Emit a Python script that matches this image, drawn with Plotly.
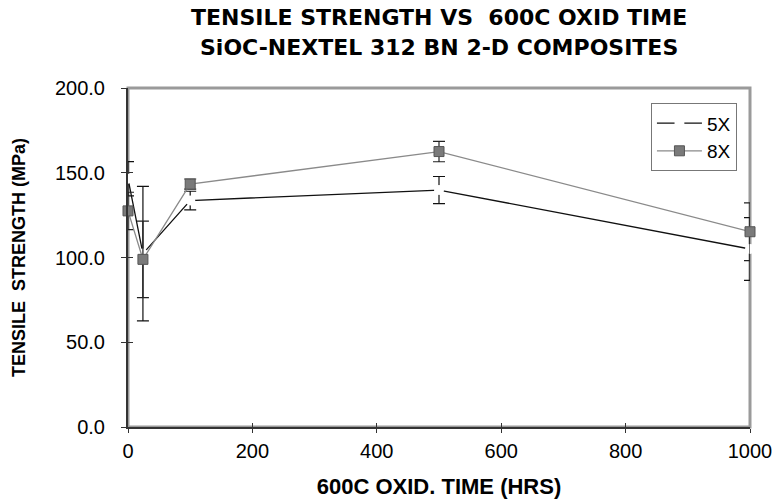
import plotly.graph_objects as go

hours = [0, 24, 100, 500, 1000]
s5 = [146.5, 102.3, 133.6, 139.8, 105.0]
e5 = [10.1, 39.7, 5.5, 8.0, 18.5]
s8 = [127.5, 98.9, 143.3, 162.5, 115.2]
e8 = [11.0, 22.6, 3.0, 6.0, 17.0]
xticks = [0, 200, 400, 600, 800, 1000]
yticks = [0, 50, 100, 150, 200]
yticklabels = ["0.0", "50.0", "100.0", "150.0", "200.0"]

FONT = "Liberation Sans, Arial, sans-serif"
TFONT = "DejaVu Sans, Liberation Sans, sans-serif"

fig = go.Figure()
fig.add_trace(go.Scatter(
    x=hours, y=s5, name="5X", mode="lines+markers",
    line=dict(color="#111111", width=1.3),
    marker=dict(symbol="circle", size=10, color="white", line=dict(width=0)),
    error_y=dict(type="data", array=e5, color="#111111", thickness=1.2, width=6),
    cliponaxis=False,
))
fig.add_trace(go.Scatter(
    x=hours, y=s8, name="8X", mode="lines+markers",
    line=dict(color="#8a8a8a", width=1.3),
    marker=dict(symbol="square", size=10, color="#7a7a7a", line=dict(width=1, color="#555555")),
    error_y=dict(type="data", array=e8, color="#222222", thickness=1.2, width=6),
    cliponaxis=False,
))

fig.update_layout(
    width=778, height=502,
    margin=dict(l=128, r=28, t=88, b=75),
    paper_bgcolor="white", plot_bgcolor="white",
    font=dict(family=FONT, color="black"),
    showlegend=True,
    legend=dict(
        x=0.979, y=0.955, xanchor="right", yanchor="top",
        bordercolor="#777777", borderwidth=1, bgcolor="white",
        font=dict(size=19, family=FONT), tracegroupgap=0, itemwidth=45,
    ),
    xaxis=dict(
        range=[0, 1000], tickvals=xticks, ticktext=[str(v) for v in xticks],
        showgrid=False, zeroline=False, showline=True, linecolor="#333333", linewidth=2,
        ticks="outside", ticklen=4, tickcolor="#333333", automargin=False,
        tickfont=dict(size=20, family=FONT), ticklabelstandoff=1,
        title=dict(text="<b>600C OXID. TIME (HRS)</b>", font=dict(size=22, family=FONT), standoff=18),
    ),
    yaxis=dict(
        range=[0, 200], tickvals=yticks, ticktext=yticklabels,
        showgrid=False, zeroline=False, showline=True, linecolor="#333333", linewidth=2,
        ticks="outside", ticklen=5, tickcolor="#333333", automargin=False,
        tickfont=dict(size=20, family=FONT), ticklabelstandoff=12,
        title=dict(text="<b>TENSILE  STRENGTH (MPa)</b>", font=dict(size=18, family=FONT), standoff=25),
    ),
    xaxis2=dict(range=[0, 1000], overlaying="x", tickvals=xticks, showticklabels=False,
                ticks="inside", ticklen=4, tickcolor="#333333", showgrid=False, zeroline=False,
                showline=False, anchor="y", automargin=False),
    yaxis2=dict(range=[0, 200], overlaying="y", tickvals=yticks, showticklabels=False,
                ticks="inside", ticklen=5, tickcolor="#333333", showgrid=False, zeroline=False,
                showline=False, anchor="x", automargin=False),
    shapes=[dict(type="rect", xref="paper", yref="paper", x0=0, x1=1, y0=0, y1=1,
                 line=dict(color="#9a9a9a", width=3), layer="below")],
    annotations=[
        dict(text="<b>TENSILE STRENGTH VS  600C OXID TIME</b>", xref="paper", yref="paper",
             x=0.5, y=1, yshift=71, xanchor="center", yanchor="middle", showarrow=False,
             font=dict(size=22, family=TFONT)),
        dict(text="<b>SiOC-NEXTEL 312 BN 2-D COMPOSITES</b>", xref="paper", yref="paper",
             x=0.5, y=1, yshift=41, xanchor="center", yanchor="middle", showarrow=False,
             font=dict(size=22, family=TFONT)),
    ],
)
# dummy trace to attach overlay axes so their ticks render
fig.add_trace(go.Scatter(x=[None], y=[None], xaxis="x2", yaxis="y2", showlegend=False, hoverinfo="skip"))

fig.write_html("out.html", config=dict(displayModeBar=False),
               post_script="document.body.style.margin='0';")
